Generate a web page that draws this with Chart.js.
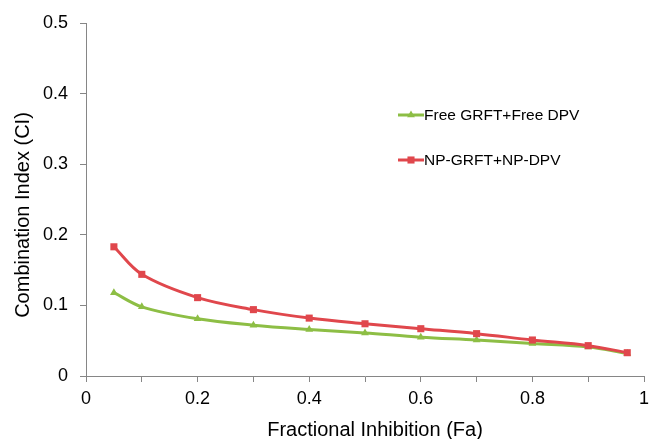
<!DOCTYPE html>
<html>
<head>
<meta charset="utf-8">
<script src="https://cdn.jsdelivr.net/npm/chart.js@4"></script>
<style>
html,body{margin:0;padding:0;background:#fff;}
#wrap{position:relative;width:649px;height:439px;}
</style>
</head>
<body>
<div id="wrap"><canvas id="c" width="649" height="439"></canvas></div>
<script>
const fa = [0.05, 0.1, 0.2, 0.3, 0.4, 0.5, 0.6, 0.7, 0.8, 0.9, 0.97];
const freeCI = [0.118, 0.098, 0.081, 0.072, 0.066, 0.061, 0.055, 0.051, 0.046, 0.041, 0.032];
const npCI = [0.183, 0.144, 0.111, 0.094, 0.082, 0.074, 0.067, 0.060, 0.051, 0.043, 0.033];
const seriesNames = ['Free GRFT+Free DPV', 'NP-GRFT+NP-DPV'];
const xTitle = 'Fractional Inhibition (Fa)';
const yTitle = 'Combination Index (CI)';
const xTicks = [0, 0.2, 0.4, 0.6, 0.8, 1];
const xMinorTicks = [0, 0.1, 0.2, 0.3, 0.4, 0.5, 0.6, 0.7, 0.8, 0.9, 1];
const yTicks = [0, 0.1, 0.2, 0.3, 0.4, 0.5];

const GREEN = '#8DBE45';
const RED = '#E0474C';
const FONT = "'Liberation Sans', Arial, sans-serif";

const toPts = (xs, ys) => xs.map((x, i) => ({x: x, y: ys[i]}));

const decorPlugin = {
  id: 'decor',
  afterDatasetsDraw(chart) {
    const ctx = chart.ctx;
    const items = [
      {name: seriesNames[0], color: GREEN, style: 'triangle', r: 4.5, y: 115},
      {name: seriesNames[1], color: RED, style: 'rect', r: 5, y: 160}
    ];
    ctx.save();
    items.forEach(it => {
      ctx.strokeStyle = it.color;
      ctx.lineWidth = 3;
      ctx.beginPath();
      ctx.moveTo(398, it.y);
      ctx.lineTo(424, it.y);
      ctx.stroke();
      ctx.fillStyle = it.color;
      ctx.strokeStyle = it.color;
      Chart.helpers.drawPoint(ctx, {pointStyle: it.style, radius: it.r, borderWidth: 0}, 411, it.y);
      ctx.fillStyle = '#000';
      ctx.font = '15.5px ' + FONT;
      ctx.textBaseline = 'middle';
      ctx.textAlign = 'left';
      ctx.fillText(it.name, 424, it.y + 1);
    });
    // axis titles
    ctx.fillStyle = '#000';
    ctx.font = '20px ' + FONT;
    ctx.textAlign = 'center';
    ctx.textBaseline = 'middle';
    ctx.fillText(xTitle, 375, 430);
    ctx.translate(23, 215);
    ctx.rotate(-Math.PI / 2);
    ctx.fillText(yTitle, 0, 0);
    ctx.restore();
  }
};

new Chart(document.getElementById('c'), {
  type: 'scatter',
  data: {
    datasets: [
      {
        label: seriesNames[1],
        data: toPts(fa, npCI),
        showLine: true,
        borderColor: RED,
        backgroundColor: RED,
        borderWidth: 3,
        pointStyle: 'rect',
        pointRadius: 5,
        pointBorderWidth: 0,
        tension: 0.35,
        order: 1
      },
      {
        label: seriesNames[0],
        data: toPts(fa, freeCI),
        showLine: true,
        borderColor: GREEN,
        backgroundColor: GREEN,
        borderWidth: 3,
        pointStyle: 'triangle',
        pointRadius: 4.5,
        pointBorderWidth: 0,
        tension: 0.35,
        order: 2
      }
    ]
  },
  options: {
    responsive: false,
    animation: false,
    layout: {padding: {left: 0, right: 3, top: 23, bottom: 0}},
    plugins: {
      legend: {display: false},
      tooltip: {enabled: false}
    },
    scales: {
      x: {
        type: 'linear',
        min: 0, max: 1,
        afterBuildTicks: axis => { axis.ticks = xMinorTicks.map(v => ({value: v})); },
        afterFit: axis => { axis.height = 63; axis.paddingRight = 0; axis.paddingLeft = 0; },
        ticks: {
          color: '#000',
          font: {family: FONT, size: 18},
          padding: 6,
          maxRotation: 0,
          autoSkip: false,
          callback: v => {
            const m = xTicks.find(t => Math.abs(t - v) < 1e-9);
            return m === undefined ? '' : String(m);
          }
        },
        grid: {drawOnChartArea: false, drawTicks: true, tickLength: 6, color: '#868686'},
        border: {color: '#868686', width: 1},
        title: {display: false}
      },
      y: {
        type: 'linear',
        min: 0, max: 0.5,
        afterBuildTicks: axis => { axis.ticks = yTicks.map(v => ({value: v})); },
        afterFit: axis => { axis.width = 86; },
        ticks: {
          color: '#000',
          font: {family: FONT, size: 18},
          padding: 12,
          callback: v => String(v)
        },
        grid: {drawOnChartArea: false, drawTicks: true, tickLength: 6, color: '#868686'},
        border: {color: '#868686', width: 1},
        title: {display: false}
      }
    }
  },
  plugins: [decorPlugin]
});
</script>
</body>
</html>
